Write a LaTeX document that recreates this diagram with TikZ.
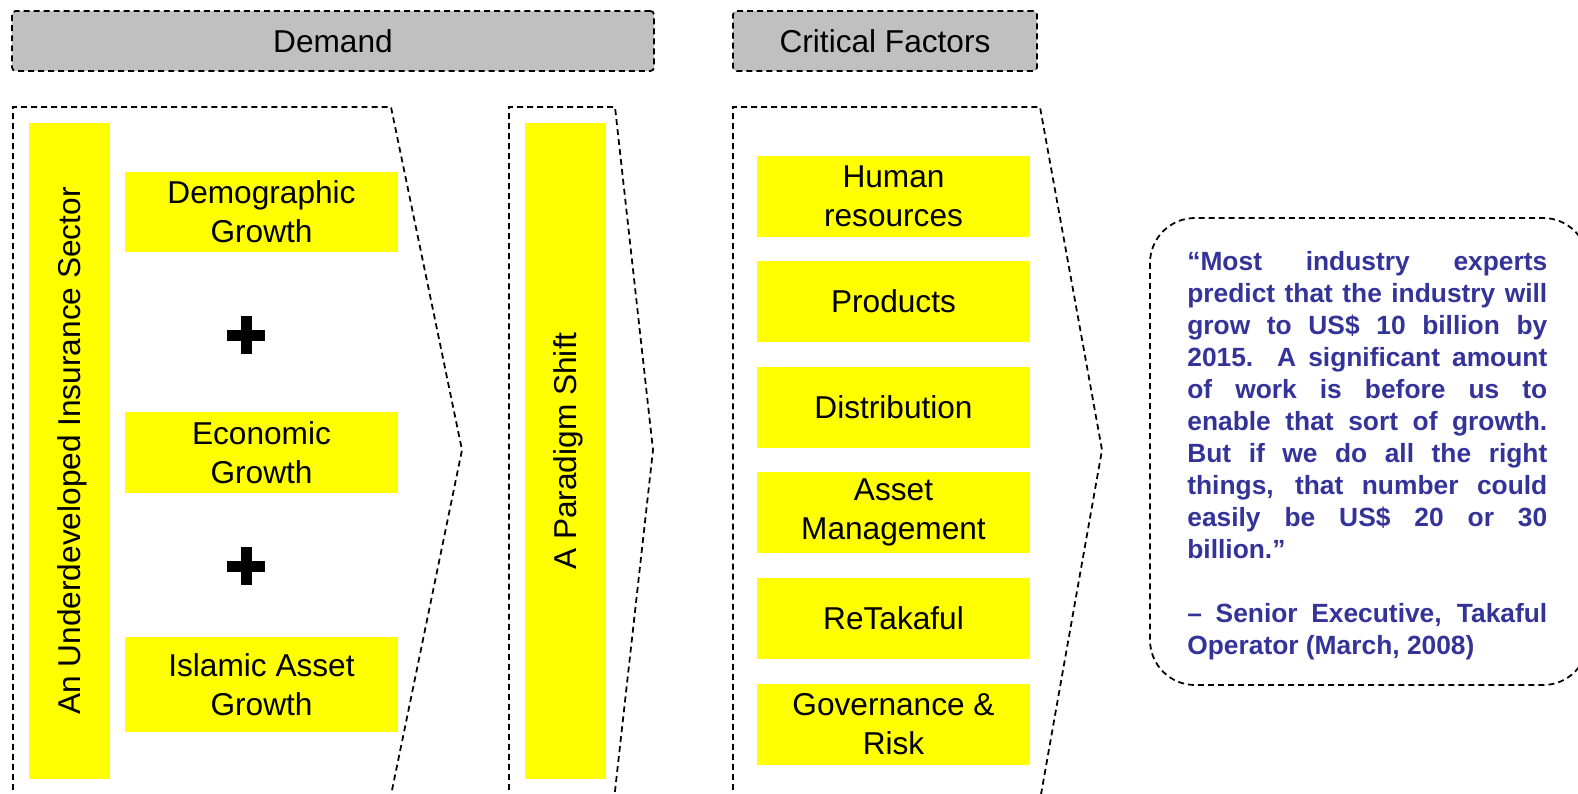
\documentclass[tikz,border=0pt]{standalone}
\usepackage{fontspec}
\setmainfont{Liberation Sans}
\definecolor{myyellow}{RGB}{255,255,0}
\definecolor{mygray}{RGB}{192,192,192}
\definecolor{myblue}{RGB}{51,51,153}
\tikzset{
	dashline/.style={dash pattern=on 3.4pt off 2.3pt, line width=1pt},
	headbox/.style={dashline, draw, fill=mygray, rounded corners=2pt, inner sep=0pt, minimum height=1.2cm, font=\fontsize{18}{22}\selectfont},
	factor/.style={fill=myyellow, minimum width=5.46cm, minimum height=1.62cm, align=center, inner sep=0pt, font=\fontsize{18}{22}\selectfont},
	sidebar/.style={fill=myyellow, rotate=90, minimum width=13.12cm, minimum height=1.62cm, inner sep=0pt, text depth=0pt, font=\fontsize{18}{22}\selectfont},
	plusbar/.style={fill=black}
}

\begin{document}
\begin{tikzpicture}[x=0.02cm, y=-0.02cm]
			\clip (0,0) rectangle (1578,794);

			% Draw the headers
			\node[headbox, minimum width=12.84cm] (demand) at (333,41) {Demand};
			\node[headbox, minimum width=6.08cm] (critical) at (885,41) {Critical Factors};

			% Draw the dashed chevrons
			\draw[dashline] (13,800) -- (13,107) -- (391,107) -- (462,450) -- (390,800);
			\draw[dashline] (509,800) -- (509,107) -- (615,107) -- (653,450) -- (614,800);
			\draw[dashline] (733,800) -- (733,107) -- (1040,107) -- (1102,450) -- (1040,800);

			% Draw the vertical bars
			\node[sidebar] (sector) at (69.5,451) {An Underdeveloped Insurance Sector};
			\node[sidebar] (shift) at (565.5,451) {A Paradigm Shift};

			% Draw the demand drivers and the plus signs
			\node[factor, minimum height=1.6cm] (demographic) at (261.5,212) {Demographic\\Growth};
			\node[factor] (economic) at (261.5,452.5) {Economic\\Growth};
			\node[factor, minimum height=1.92cm] (islamic) at (261.5,684.5) {Islamic Asset\\Growth};
			\fill[plusbar] (227,329.5) rectangle (265,340.5);
			\fill[plusbar] (240.5,316) rectangle (251.5,354);
			\fill[plusbar] (227,560.5) rectangle (265,571.5);
			\fill[plusbar] (240.5,547) rectangle (251.5,585);

			% Draw the critical factors
			\node[factor] (human) at (893.5,196.5) {Human\\resources};
			\node[factor] (products) at (893.5,301.5) {Products};
			\node[factor] (distribution) at (893.5,407.5) {Distribution};
			\node[factor] (asset) at (893.5,512.5) {Asset\\Management};
			\node[factor] (retakaful) at (893.5,618.5) {ReTakaful};
			\node[factor] (governance) at (893.5,724) {Governance \&\\Risk};

			% Draw the quote
			\draw[dashline, rounded corners=0.9cm] (1150,218) rectangle (1588,685);
			\node[anchor=north west, inner sep=0pt, text width=7.2cm, align=justify, text=myblue, font=\bfseries\fontsize{15}{18.2}\selectfont] (quote) at (1187,251) {%
				“Most industry experts\linebreak
				predict that the industry will\linebreak
				grow to US\$ 10 billion by\linebreak
				2015.  A significant amount\linebreak
				of work is before us to\linebreak
				enable that sort of growth.\linebreak
				But if we do all the right\linebreak
				things, that number could\linebreak
				easily be US\$ 20 or 30\linebreak
				billion.”\par\vspace{18.2pt}
				– Senior Executive, Takaful\linebreak
				Operator (March, 2008)};
		\end{tikzpicture}
\end{document}
